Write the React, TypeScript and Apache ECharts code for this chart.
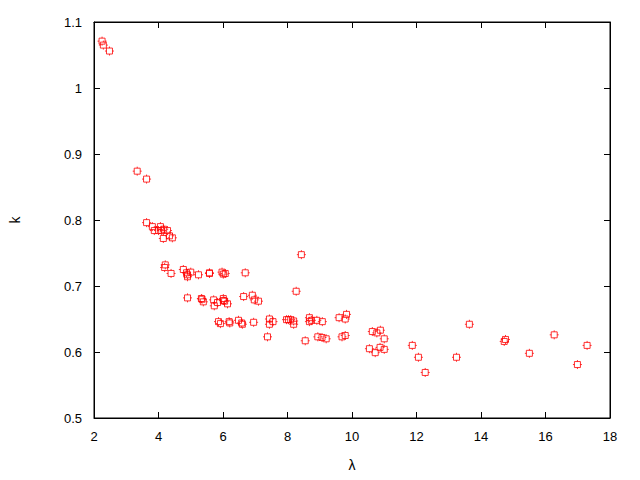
import React, { useEffect, useRef } from "react";
import * as echarts from "echarts";

const lambdaValues: number[] = [
  2.25, 2.29, 2.48, 3.34, 3.63, 3.63, 3.81, 3.87, 4.0, 4.06, 4.1, 4.16, 4.28, 4.15, 4.34, 4.43,
  4.21, 4.19, 4.39, 4.77, 4.87, 4.9, 4.9, 5.0, 4.9, 5.24, 5.58, 5.58, 5.97, 6.01, 6.07, 6.69,
  5.33, 5.35, 5.39, 5.71, 5.73, 5.83, 6.01, 6.01, 6.05, 6.14, 6.64, 6.91, 6.97, 7.1,
  5.86, 5.92, 6.19, 6.21, 6.48, 6.58, 6.6, 6.95, 7.38, 7.44, 7.44, 7.55, 7.97, 8.03, 8.1, 8.19,
  8.19, 8.27, 8.43, 8.55, 8.68, 8.68, 8.74, 8.91, 9.08, 8.94, 9.07, 9.2, 9.6, 9.79, 9.83, 9.69,
  9.79, 10.54, 10.63, 10.72, 10.77, 10.88, 10.87, 11.0, 11.0, 11.87, 12.06, 12.27, 13.24, 13.64,
  14.72, 14.76, 15.5, 16.27, 16.99, 17.29,
];
const kValues: number[] = [
  1.071, 1.065, 1.056, 0.874, 0.862, 0.796, 0.79, 0.784, 0.784, 0.79, 0.784, 0.786, 0.784, 0.772, 0.776, 0.773,
  0.732, 0.728, 0.719, 0.725, 0.72, 0.714, 0.717, 0.721, 0.682, 0.717, 0.72, 0.719, 0.721, 0.718, 0.719, 0.72,
  0.681, 0.68, 0.676, 0.679, 0.67, 0.675, 0.681, 0.678, 0.677, 0.673, 0.684, 0.686, 0.679, 0.677,
  0.646, 0.643, 0.646, 0.644, 0.648, 0.644, 0.642, 0.645, 0.623, 0.65, 0.642, 0.646, 0.649, 0.649, 0.649, 0.642,
  0.647, 0.692, 0.7475, 0.617, 0.652, 0.646, 0.648, 0.648, 0.646, 0.623, 0.622, 0.62, 0.652, 0.65, 0.657, 0.623,
  0.625, 0.605, 0.631, 0.599, 0.629, 0.633, 0.607, 0.62, 0.604, 0.61, 0.592, 0.569, 0.592, 0.642,
  0.616, 0.619, 0.598, 0.626, 0.581, 0.61,
];
const xTicks = { min: 2, max: 18, interval: 2 };
const yTicks = { min: 0.5, max: 1.1, interval: 0.1 };

const markerPath =
  "path://M-4.5,-4.5 M4.5,4.5 M-3,-3 L3,-3 L3,3 L-3,3 Z M-4.5,0 L-3,0 M3,0 L4.5,0 M0,-4.5 L0,-3 M0,3 L0,4.5";

export default function App() {
  const ref = useRef<HTMLDivElement>(null);
  useEffect(() => {
    document.body.style.margin = "0";
    if (!ref.current) return;
    const chart = echarts.init(ref.current, null, { renderer: "svg" });
    const data = lambdaValues.map((x, i) => [x, kValues[i]]);
    const font = "Liberation Sans";
    const labelStyle = { color: "#000", fontFamily: font, fontSize: 13 };
    const lineStyle = { color: "#000", width: 1 };
    chart.setOption({
      animation: false,
      backgroundColor: "#fff",
      grid: { left: 90, right: 30, top: 22, bottom: 62, show: true, borderColor: "#000", borderWidth: 1 },
      xAxis: [
        {
          type: "value",
          min: xTicks.min,
          max: xTicks.max,
          interval: xTicks.interval,
          position: "bottom",
          name: "λ",
          nameLocation: "middle",
          nameGap: 40,
          nameTextStyle: { color: "#000", fontFamily: font, fontSize: 14 },
          axisLine: { show: true, lineStyle },
          axisTick: { show: true, inside: true, length: 6, lineStyle },
          axisLabel: { ...labelStyle, margin: 12 },
          splitLine: { show: false },
        },
        {
          type: "value",
          min: xTicks.min,
          max: xTicks.max,
          interval: xTicks.interval,
          position: "top",
          axisLine: { show: true, lineStyle },
          axisTick: { show: true, inside: true, length: 6, lineStyle },
          axisLabel: { show: false },
          splitLine: { show: false },
        },
      ],
      yAxis: [
        {
          type: "value",
          min: yTicks.min,
          max: yTicks.max,
          interval: yTicks.interval,
          position: "left",
          name: "k",
          nameLocation: "middle",
          nameRotate: 90,
          nameGap: 72,
          nameTextStyle: { color: "#000", fontFamily: font, fontSize: 14 },
          axisLine: { show: true, lineStyle },
          axisTick: { show: true, inside: true, length: 6, lineStyle },
          axisLabel: {
            ...labelStyle,
            margin: 12,
            formatter: (v: number) => String(+v.toFixed(1)),
          },
          splitLine: { show: false },
        },
        {
          type: "value",
          min: yTicks.min,
          max: yTicks.max,
          interval: yTicks.interval,
          position: "right",
          axisLine: { show: true, lineStyle },
          axisTick: { show: true, inside: true, length: 6, lineStyle },
          axisLabel: { show: false },
          splitLine: { show: false },
        },
      ],
      series: [
        {
          type: "scatter",
          data,
          symbol: markerPath,
          symbolSize: 9,
          itemStyle: { color: "transparent", borderColor: "#ff0000", borderWidth: 1 },
        },
      ],
    });
    return () => chart.dispose();
  }, []);
  return <div ref={ref} style={{ position: "fixed", left: 0, top: 0, width: 640, height: 480 }} />;
}
